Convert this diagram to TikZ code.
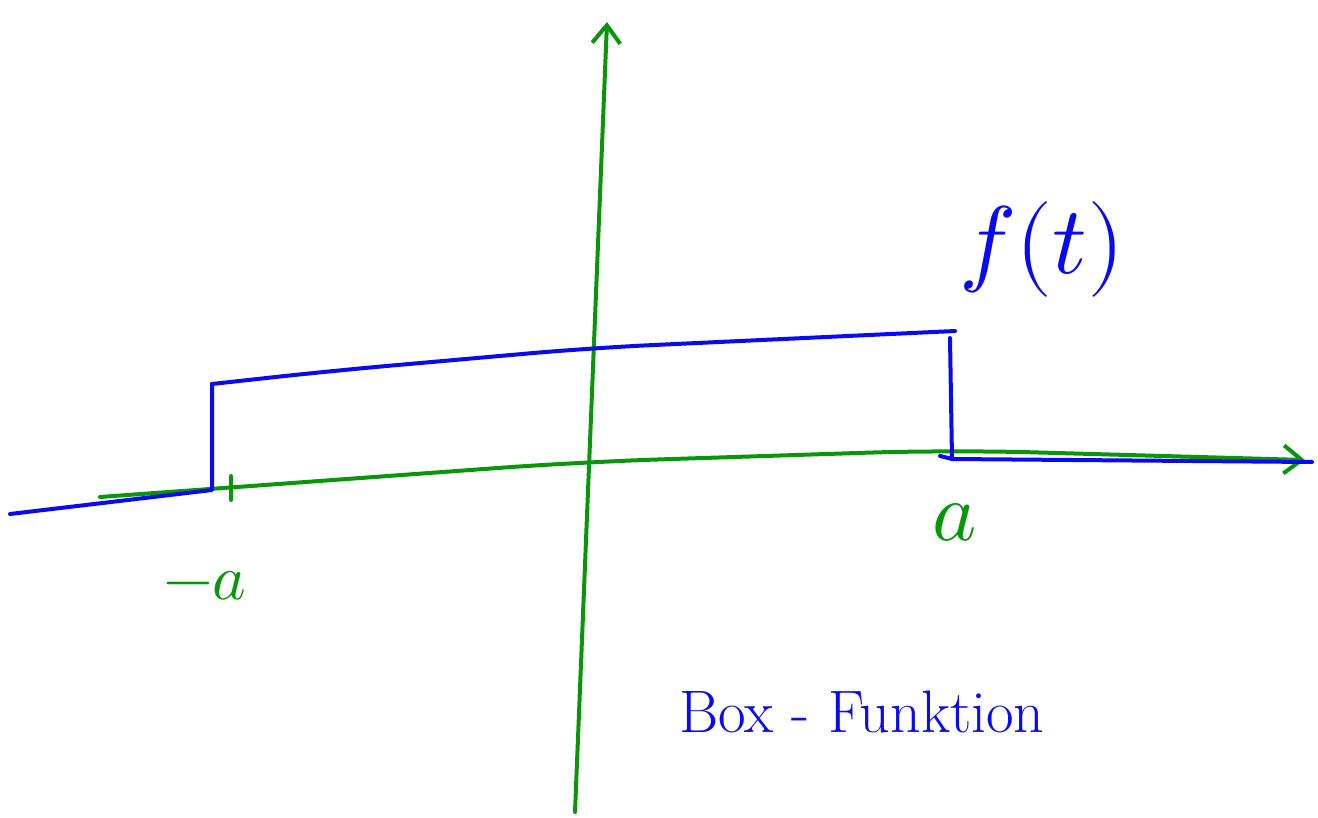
\documentclass[tikz,border=0pt]{standalone}
\usepackage{amsmath}
\usepackage{unicode-math}
\setmathfont{Latin Modern Math}
\usepackage{tikz}
\usepackage{xcolor}
\usetikzlibrary{
  positioning, arrows.meta, calc,
}
\definecolor{cAxis}{HTML}{0A960A}
\definecolor{cBox}{HTML}{0A0AF0}

\tikzset{
  axisline/.style={cAxis, line width=2pt, line cap=round, line join=round},
  boxline/.style={cBox, line width=2pt, line cap=round, line join=round},
  axislabel/.style={text=cAxis, inner sep=0pt},
  boxlabel/.style={text=cBox, inner sep=0pt},
}

\begin{document}
\begin{tikzpicture}[x=0.5pt, y=-0.5pt]
  \useasboundingbox (0,0) rectangle (1318,818);

  % axes
  \coordinate (xstart) at (100,497);
  \coordinate (xmid)   at (580,462);
  \coordinate (xfar)   at (950,450);
  \coordinate (xend)   at (1305,460);
  \coordinate (ystart) at (575,812);
  \coordinate (yend)   at (607,22);
  \draw[axisline, rounded corners=40pt, -{Straight Barb[length=9pt, width=14pt]}]
        (xstart) -- (xmid) -- (xfar) -- (xend);
  \draw[axisline, -{Straight Barb[length=9pt, width=14pt]}] (ystart) -- (yend);

  % ticks
  \coordinate (ticka) at (231,488);
  \draw[axisline] ($(ticka)+(0,-12)$) -- ($(ticka)+(0,12)$);

  % box function
  \coordinate (leftend)  at (10,514);
  \coordinate (leftfoot) at (212,490);
  \coordinate (lefttop)  at (212,384);
  \coordinate (lefthump) at (330,371);
  \coordinate (centtop)  at (590,348);
  \coordinate (righttop) at (955,331);
  \coordinate (rightup)  at (950,338);
  \coordinate (rightfoot) at (952,459);
  \coordinate (rightend) at (1312,462);
  \draw[boxline] (leftend) -- (leftfoot) -- (lefttop);
  \draw[boxline, rounded corners=30pt] (lefttop) -- (lefthump)
        -- (centtop) -- (righttop);
  \draw[boxline] (rightup) -- (rightfoot);
  \draw[boxline] (940,456) -- (rightfoot) -- (rightend);

  % labels
  \node[axislabel, font=\fontsize{32}{36}\selectfont] (minusa) at (205,586) {$-a$};
  \node[axislabel, font=\fontsize{42}{46}\selectfont] (plusa) at (955,522) {$a$};
  \node[boxlabel, font=\fontsize{48}{52}\selectfont] (ft) at (1042,250) {$f(t)$};
  \node[boxlabel, font=\fontsize{30}{30}\selectfont] (boxname) at (862,712) {Box - Funktion};
\end{tikzpicture}
\end{document}
